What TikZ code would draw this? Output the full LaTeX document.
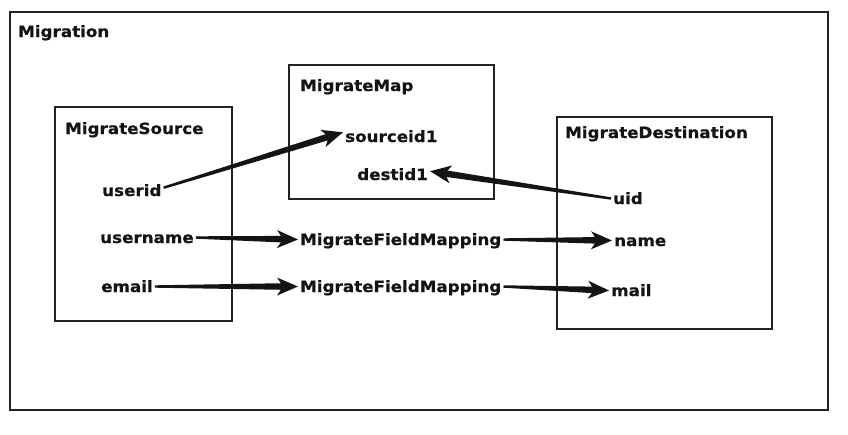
\documentclass[tikz,border=0pt]{standalone}
\usepackage{fontspec}
\newfontfamily\lblfont{DejaVu Sans}[FakeStretch=1.08,FakeBold=0.6]
\usetikzlibrary{calc}
\definecolor{ink}{HTML}{141414}
\definecolor{frame}{HTML}{232323}
\newcommand\taperarrow[2]{%
  \coordinate (tA) at (#1);
  \coordinate (tB) at (#2);
  \coordinate (tC) at ($(tB)!15pt!(tA)$);
  \coordinate (tH) at ($(tB)!21pt!(tA)$);
  \coordinate (tI) at ($(tB)!15pt!(tA)$);
  \fill[ink] ($(tA)!1.2pt!90:(tB)$) -- ($(tC)!3.3pt!-90:(tA)$) -- ($(tC)!3.3pt!90:(tA)$) -- ($(tA)!1.2pt!-90:(tB)$) -- cycle;
  \fill[ink] (tB) -- ($(tH)!9pt!90:(tB)$) -- (tI) -- ($(tH)!9pt!-90:(tB)$) -- cycle;
}
\begin{document}
\begin{tikzpicture}[x=1pt,y=-1pt,
  box/.style={draw=frame,line width=2pt},
  lbl/.style={font=\lblfont\bfseries\fontsize{15.5}{17}\selectfont,text=ink,inner sep=2pt,text height=12pt,text depth=1pt,anchor=base west}]
\useasboundingbox (0,0) rectangle (848,434);
\fill[white] (0,0) rectangle (848,434);
% boxes
\draw[box] (10,12) rectangle (828,410);
\draw[box] (55,107) rectangle (232,321);
\draw[box] (289,65) rectangle (494,199);
\draw[box] (557,117) rectangle (772,329);
% labels
\node[lbl] (migration) at (16,37) {Migration};
\node[lbl] (msource) at (63,134) {MigrateSource};
\node[lbl] (mmap) at (298,91) {MigrateMap};
\node[lbl] (mdest) at (563,138) {MigrateDestination};
\node[lbl] (userid) at (100,196) {userid};
\node[lbl] (username) at (98,243) {username};
\node[lbl] (email) at (99,292) {email};
\node[lbl] (sourceid1) at (343,142) {sourceid1};
\node[lbl] (destid1) at (355,180) {destid1};
\node[lbl] (mfm1) at (298,245) {MigrateFieldMapping};
\node[lbl] (mfm2) at (298,292) {MigrateFieldMapping};
\node[lbl] (uid) at (611,204) {uid};
\node[lbl] (name) at (612,246) {name};
\node[lbl] (mail) at (609,296) {mail};
% connectors
\taperarrow{userid.5}{sourceid1.175}
\taperarrow{uid.west}{destid1.5}
\taperarrow{username.east}{mfm1.west}
\taperarrow{mfm1.east}{name.west}
\taperarrow{email.east}{mfm2.west}
\taperarrow{mfm2.east}{mail.west}
\end{tikzpicture}
\end{document}
